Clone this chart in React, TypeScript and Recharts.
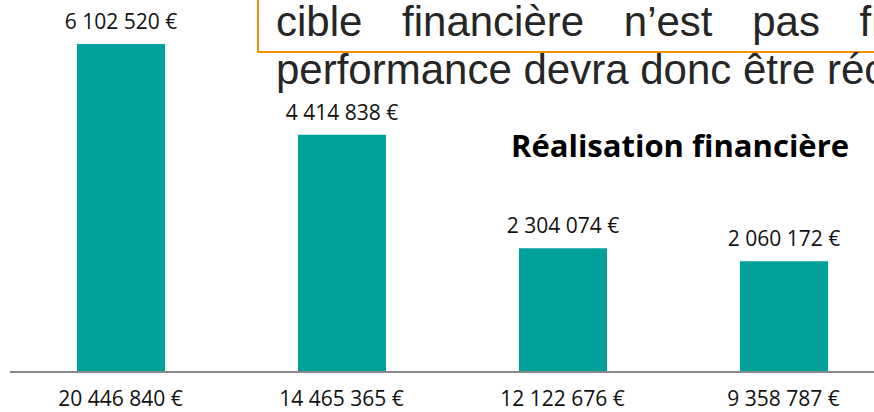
import React from 'react';
import { BarChart, Bar, XAxis, YAxis, LabelList } from 'recharts';

// Chart values
const categories = ['20 446 840 €', '14 465 365 €', '12 122 676 €', '9 358 787 €'];
const realised = [6102520, 4414838, 2304074, 2060172];

const chartTitle = 'Réalisation financière';
const calloutLine1 = ['cible', 'financière', 'n’est', 'pas', 'fi'];
const calloutLine2 = 'performance devra donc être réc';

const TEAL = '#00A19A';
const ORANGE = '#F39200';

const fmtEuro = (v: number) => v.toString().replace(/\B(?=(\d{3})+(?!\d))/g, ' ') + ' €';

const data = categories.map((c, i) => ({ name: c, value: realised[i] }));

export default function App() {
    return (
        <div style={{ position: 'absolute', left: 0, top: 0, width: 874, height: 412, overflow: 'hidden', background: '#fff' }}>
            <BarChart width={894} height={412} data={data} margin={{ top: 44, right: 0, left: 10, bottom: 0 }}>
                <YAxis hide domain={[0, realised[0]]} />
                <XAxis
                    dataKey="name"
                    height={40}
                    tickLine={false}
                    tickSize={6}
                    tickMargin={13}
                    axisLine={{ stroke: '#878787', strokeWidth: 2 }}
                    tick={{ fontSize: 21, fill: '#111', fontFamily: 'Open Sans' }}
                />
                <Bar dataKey="value" fill={TEAL} barSize={88} isAnimationActive={false}>
                    <LabelList
                        dataKey="value"
                        position="top"
                        offset={15}
                        formatter={(v: any) => fmtEuro(Number(v))}
                        style={{ fontSize: 21, fill: '#111', fontFamily: 'Open Sans' }}
                    />
                </Bar>
            </BarChart>

            {/* chart title */}
            <div style={{ position: 'absolute', left: 480, width: 400, top: 126, textAlign: 'center', fontFamily: 'Open Sans', fontWeight: 700, fontSize: 31, color: '#000', lineHeight: '38px' }}>
                {chartTitle}
            </div>

            {/* overlapping callout text box from the slide */}
            <div style={{ position: 'absolute', left: 257, top: -60, width: 700, height: 109, border: `2px solid ${ORANGE}` }} />
            <div style={{ position: 'absolute', left: 276, top: -2, whiteSpace: 'nowrap', fontFamily: 'Liberation Sans', fontSize: 42, lineHeight: '48px', color: '#262626' }}>
                <div style={{ wordSpacing: 28 }}>{calloutLine1.join(' ')}</div>
                <div>{calloutLine2}</div>
            </div>
        </div>
    );
}
